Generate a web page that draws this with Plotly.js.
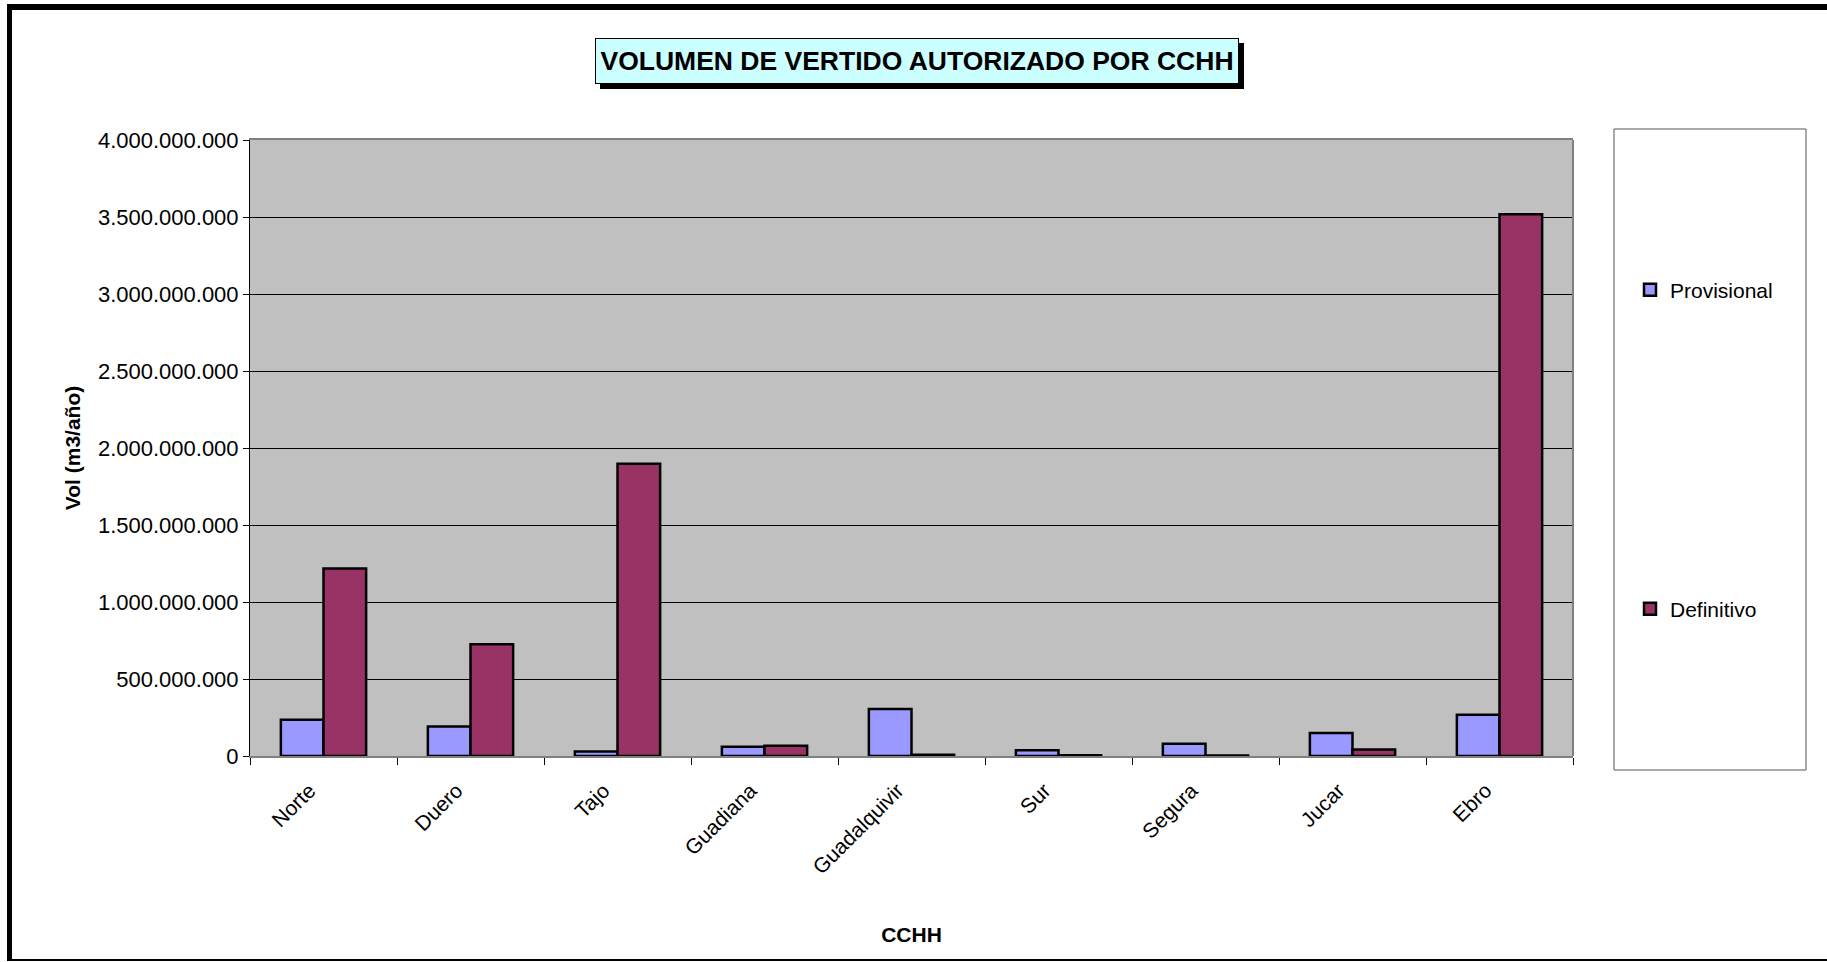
<!DOCTYPE html>
<html>
<head>
<meta charset="utf-8">
<script src="https://cdn.plot.ly/plotly-3.0.1.min.js"></script>
<style>
  html, body { margin: 0; padding: 0; background: #ffffff; }
  #chart { width: 1827px; height: 962px; }
</style>
</head>
<body>
<div id="chart"></div>
<script>
// ---- data ----
const categories = ["Norte", "Duero", "Tajo", "Guadiana", "Guadalquivir", "Sur", "Segura", "Jucar", "Ebro"];
const provisional = [235000000, 192000000, 30000000, 60000000, 305000000, 38000000, 80000000, 150000000, 268000000];
const definitivo  = [1217000000, 726000000, 1898000000, 66000000, 8000000, 5000000, 4000000, 42000000, 3518000000];
const seriesNames = ["Provisional", "Definitivo"];
const yTickValues = [0, 500000000, 1000000000, 1500000000, 2000000000, 2500000000, 3000000000, 3500000000, 4000000000];

// ---- layout geometry (pixels) ----
const W = 1827, H = 962;
const PL = 250, PR = 1573, PT = 140, PB = 756;
const px = v => (v - PL) / (PR - PL);
const py = v => (PB - v) / (PB - PT);
const FONT = '"Liberation Sans", Arial, sans-serif';

const traces = [
  {
    type: 'bar', name: seriesNames[0], x: categories, y: provisional,
    marker: { color: '#9999FF', line: { color: '#000000', width: 2.5 } },
    legend: 'legend', hoverinfo: 'x+y+name'
  },
  {
    type: 'bar', name: seriesNames[1], x: categories, y: definitivo,
    marker: { color: '#993366', line: { color: '#000000', width: 2.5 } },
    legend: 'legend2', hoverinfo: 'x+y+name'
  }
];

const shapes = [
  // outer chart frame (thick black)
  { type: 'rect', xref: 'paper', yref: 'paper', x0: px(7), x1: px(12), y0: py(961), y1: py(4), fillcolor: '#000', line: { width: 0 }, layer: 'above' },
  { type: 'rect', xref: 'paper', yref: 'paper', x0: px(7), x1: px(1827), y0: py(10), y1: py(4), fillcolor: '#000', line: { width: 0 }, layer: 'above' },
  { type: 'rect', xref: 'paper', yref: 'paper', x0: px(7), x1: px(1827), y0: py(961), y1: py(959), fillcolor: '#000', line: { width: 0 }, layer: 'above' },
  // right edge of plot area
  { type: 'line', xref: 'paper', yref: 'paper', x0: 1, x1: 1, y0: 0, y1: 1, line: { color: '#808080', width: 2 }, layer: 'above' },
  // legend box
  { type: 'rect', xref: 'paper', yref: 'paper', x0: px(1614), x1: px(1806), y0: py(770), y1: py(129), fillcolor: '#ffffff', line: { color: '#555555', width: 1 }, layer: 'below' },
  // title shadow
  { type: 'rect', xref: 'paper', yref: 'paper', x0: px(600), x1: px(1244), y0: py(89), y1: py(43), fillcolor: '#000', line: { width: 0 }, layer: 'above' }
];

const layout = {
  width: W, height: H,
  margin: { l: PL, r: W - PR, t: PT, b: H - PB, pad: 0 },
  paper_bgcolor: '#ffffff',
  plot_bgcolor: '#C0C0C0',
  separators: ',.',
  font: { family: FONT, size: 21, color: '#000' },
  barmode: 'group',
  bargap: 0.42,
  bargroupgap: 0,
  showlegend: true,
  xaxis: {
    type: 'category',
    tickangle: -45,
    tickson: 'boundaries',
    ticks: 'outside', ticklen: 7, tickwidth: 1, tickcolor: '#000',
    ticklabelshift: -14, ticklabelstandoff: 12,
    showline: true, linecolor: '#808080', linewidth: 2, mirror: true,
    showgrid: false, zeroline: false,
    tickfont: { family: FONT, size: 21, color: '#000' },
    title: { text: '<b>CCHH</b>', font: { family: FONT, size: 21, color: '#000' }, standoff: 50 },
    automargin: false
  },
  yaxis: {
    range: [0, 4000000000],
    tickvals: yTickValues,
    tickformat: ',d',
    ticks: 'outside', ticklen: 6, tickwidth: 1, tickcolor: '#000',
    showline: true, linecolor: '#000', linewidth: 1,
    showgrid: true, gridcolor: '#000', gridwidth: 1,
    zeroline: false,
    tickfont: { family: FONT, size: 22, color: '#000' },
    title: { text: '<b>Vol (m3/año)</b>', font: { family: FONT, size: 21, color: '#000' }, standoff: 11 },
    automargin: false
  },
  legend: {
    x: px(1630), y: py(290), xanchor: 'left', yanchor: 'middle',
    bgcolor: 'rgba(0,0,0,0)', borderwidth: 0,
    font: { family: FONT, size: 21, color: '#000' }
  },
  legend2: {
    x: px(1630), y: py(609), xanchor: 'left', yanchor: 'middle',
    bgcolor: 'rgba(0,0,0,0)', borderwidth: 0,
    font: { family: FONT, size: 21, color: '#000' }
  },
  shapes: shapes,
  annotations: [
    {
      xref: 'paper', yref: 'paper',
      x: px(917), y: py(61), xanchor: 'center', yanchor: 'middle',
      text: '<b>VOLUMEN DE VERTIDO AUTORIZADO POR CCHH</b>',
      showarrow: false,
      font: { family: FONT, size: 26.5, color: '#000' },
      bgcolor: '#CCFFFF', bordercolor: '#000', borderwidth: 1, borderpad: 1,
      width: 640, height: 42
    }
  ]
};

Plotly.newPlot('chart', traces, layout, { displayModeBar: false, staticPlot: true });
</script>
</body>
</html>
